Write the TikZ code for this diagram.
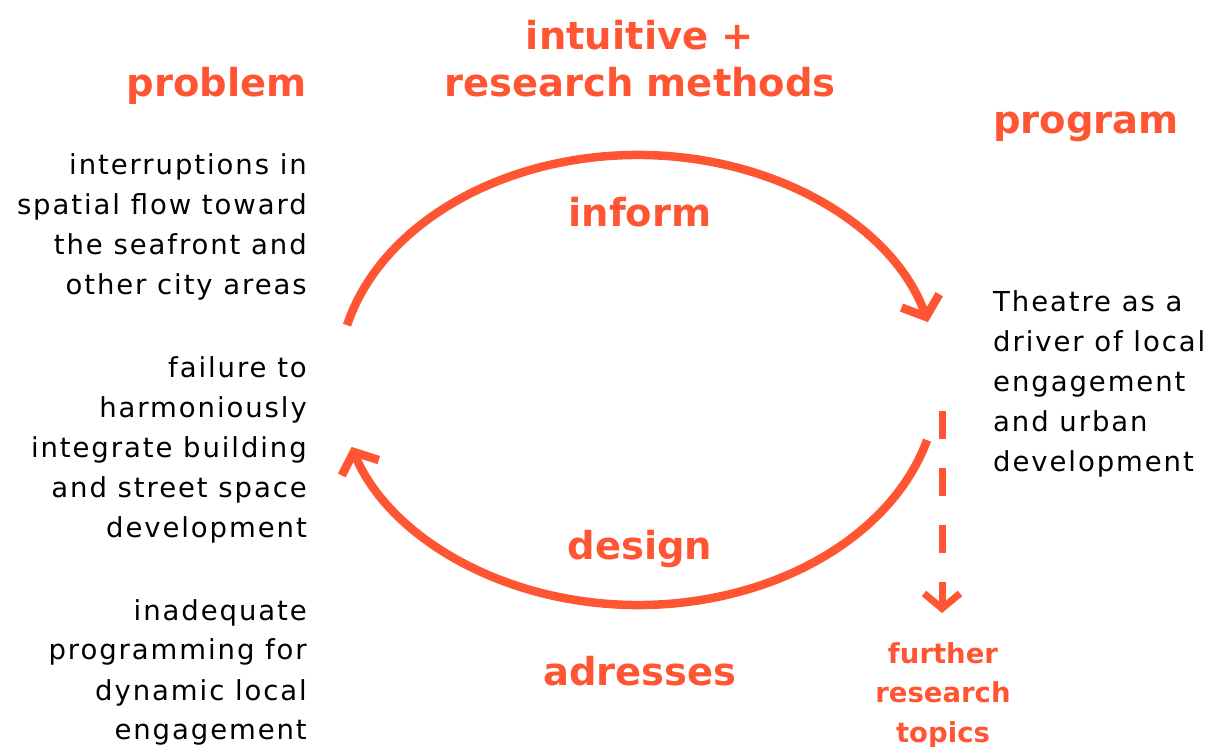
\documentclass[tikz,border=0pt]{standalone}
\usepackage{fontspec}
\setmainfont{DejaVu Sans}[LetterSpace=7]
\newfontfamily\hdfont{DejaVu Sans}
\usetikzlibrary{arrows.meta}
\definecolor{acc}{RGB}{255,85,51}
\tikzset{
  body/.style={inner sep=0pt, font=\fontsize{27.5}{40}\selectfont, text=black},
  head/.style={inner sep=0pt, font=\hdfont\fontsize{38.5}{47}\selectfont\bfseries, text=acc},
  small/.style={inner sep=0pt, font=\hdfont\fontsize{27.5}{39.5}\selectfont\bfseries, text=acc, align=center},
  cyc/.style={draw=acc, line width=8.5pt, -{Straight Barb[length=17pt, width=40pt, line width=8.5pt]}},
  dsh/.style={draw=acc, line width=7pt, dash pattern=on 28pt off 29pt, -{Straight Barb[length=15pt, width=36pt, line width=7pt]}}
}
\begin{document}
\begin{tikzpicture}[x=1pt,y=1pt]
\path[use as bounding box] (0,0) rectangle (1213,747);
\coordinate (c) at (638,367);
% headings
\node[head, anchor=base east] (prob) at (307,650) {problem};
\node[head, anchor=base, align=center] (meth) at (640,650) {intuitive +\\research methods};
\node[head, anchor=base west] (prog) at (993,613) {program};
\node[head, anchor=base] (inf) at (640,520) {inform};
\node[head, anchor=base] (des) at (640,187) {design};
\node[head, anchor=base] (adr) at (640,61) {adresses};
% left texts
\node[body, anchor=base east, align=right] (p1) at (307,452) {interruptions in\\spatial flow toward\\the seafront and\\other city areas};
\node[body, anchor=base east, align=right] (p2) at (307,209) {failure to\\harmoniously\\integrate building\\and street space\\development};
\node[body, anchor=base east, align=right] (p3) at (307,7) {inadequate\\programming for\\dynamic local\\engagement};
% right text
\node[body, anchor=base west, align=left] (r1) at (993,275) {Theatre as a\\driver of local\\engagement\\and urban\\development};
\node[small, anchor=base] (fr) at (943,5) {further\\research\\topics};
% cycle
\draw[cyc] ([shift={(165.9:300 and 225)}]c) arc[start angle=165.9, end angle=14.9, x radius=300, y radius=225];
\draw[cyc] ([shift={(-15.5:300 and 225)}]c) arc[start angle=-15.5, end angle=-162.7, x radius=300, y radius=225];
\coordinate (d0) at (942,336);
\coordinate (d1) at (942,134);
\draw[dsh] (d0) -- (d1);
\end{tikzpicture}
\end{document}
